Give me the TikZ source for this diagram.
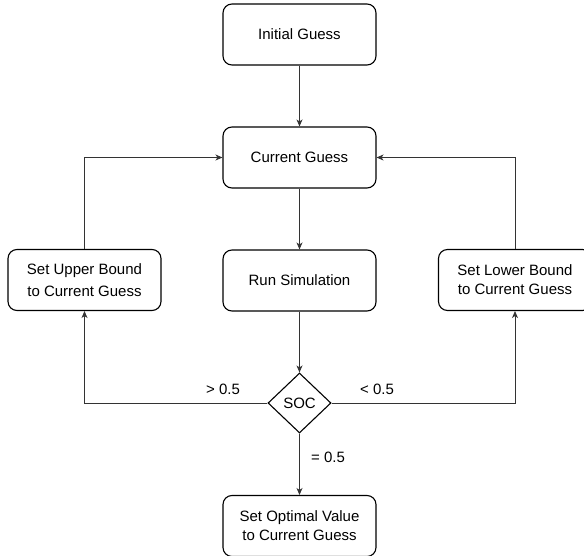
\documentclass[tikz,border=0pt]{standalone}
\usepackage{fontspec}
\setmainfont{Liberation Sans}
\usetikzlibrary{shapes.geometric,arrows.meta}

\begin{document}
\begin{tikzpicture}[x=1pt,y=-1pt,
  stepbox/.style={draw=black, line width=1.1pt, rounded corners=9pt,
    minimum width=153pt, minimum height=61pt, inner sep=0pt, align=center,
    font=\fontsize{15}{19}\selectfont},
  decision/.style={draw=black, line width=1.1pt, diamond, minimum width=63pt,
    minimum height=60pt, inner sep=0pt, font=\fontsize{15}{18}\selectfont},
  flow/.style={draw=black!80, line width=0.8pt,
    -{Stealth[length=7pt,width=6pt,inset=2pt]}},
  lbl/.style={font=\fontsize{15}{18}\selectfont, inner sep=0pt}]
  \useasboundingbox (0,0) rectangle (584,556);
  \begin{scope}
  \clip (0,0) rectangle (584,556);

  % process boxes
  \node[stepbox] (init)  at (299.5,34.5) {Initial Guess};
  \node[stepbox] (cur)   at (299.5,157.5) {Current Guess};
  \node[stepbox] (sim)   at (299.5,280.5) {Run Simulation};
  \node[stepbox, font=\fontsize{15}{22.5}\selectfont] (upper) at (84.5,280) {Set Upper Bound\\to Current Guess};
  \node[stepbox] (lower) at (515,280) {Set Lower Bound\\to Current Guess};
  \node[stepbox] (opt)   at (299.5,526) {Set Optimal Value\\to Current Guess};

  % decision
  \node[decision] (soc) at (299.5,403) {SOC};

  % bend points of the feedback loops
  \coordinate (ul) at (84.5,403);
  \coordinate (lr) at (515,403);

  % main line
  \draw[flow] (init) -- (cur);
  \draw[flow] (cur) -- (sim);
  \draw[flow] (sim) -- (soc);
  \draw[flow] (soc) -- (opt);

  % branches from the decision
  \draw[flow] (soc.west) -- (ul) -- (upper.south);
  \draw[flow] (soc.east) -- (lr) -- (lower.south);

  % back to the current guess
  \draw[flow] (upper.north) |- (cur.west);
  \draw[flow] (lower.north) |- (cur.east);

  % branch labels
  \node[lbl] (gt) at (223,389) {> 0.5};
  \node[lbl] (lt) at (377,389) {< 0.5};
  \node[lbl] (eq) at (328,457) {= 0.5};
  \end{scope}
\end{tikzpicture}
\end{document}
